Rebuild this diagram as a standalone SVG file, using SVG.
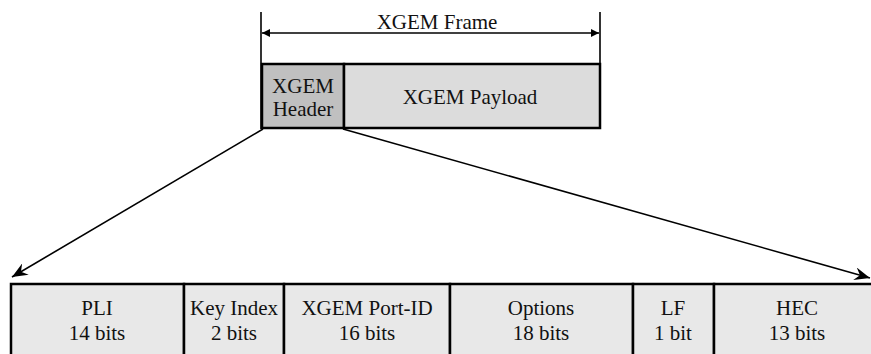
<svg xmlns="http://www.w3.org/2000/svg" width="871" height="354" viewBox="0 0 871 354">
<style>
text{font-family:'Liberation Serif',Tinos,'Times New Roman','DejaVu Serif',serif;font-size:21px;fill:#111;text-anchor:middle}
.cell{fill:#e8e8e8;stroke:#000;stroke-width:2.5}
.ln{stroke:#000;stroke-width:1.6;fill:none}
</style>
<defs>
<marker id="tri" viewBox="0 0 10 10" refX="10" refY="5" markerWidth="10" markerHeight="8" markerUnits="userSpaceOnUse" orient="auto-start-reverse">
<path d="M0,0 L10,5 L0,10 z" fill="#000"/>
</marker>
<marker id="stealth" viewBox="0 0 12 10" refX="12" refY="5" markerWidth="16" markerHeight="13" markerUnits="userSpaceOnUse" orient="auto">
<path d="M0,0 L12,5 L0,10 L4,5 z" fill="#000"/>
</marker>
</defs>
<g id="frame">
<line class="ln" x1="261" y1="12" x2="261" y2="129"/>
<line class="ln" x1="600" y1="12" x2="600" y2="129"/>
<line class="ln" x1="262" y1="33" x2="599" y2="33" marker-start="url(#tri)" marker-end="url(#tri)"/>
<text x="437" y="29" font-family="Liberation Serif, serif">XGEM Frame</text>
</g>
<g id="header">
<rect x="262" y="64" width="82" height="64" fill="#c0c0c0" stroke="#000" stroke-width="2.5"/>
<text x="303" y="93">XGEM</text>
<text x="303" y="116">Header</text>
</g>
<g id="payload">
<rect x="344" y="64" width="256" height="64" fill="#dcdcdc" stroke="#000" stroke-width="2.5"/>
<text x="470" y="104">XGEM Payload</text>
</g>
<g id="connectors">
<line class="ln" x1="263" y1="129" x2="12" y2="277" marker-end="url(#stealth)"/>
<line class="ln" x1="343" y1="129" x2="870" y2="278" marker-end="url(#stealth)"/>
</g>
<g id="pli">
<rect class="cell" x="11" y="284" width="173" height="90"/>
<text x="97" y="315">PLI</text>
<text x="97" y="340">14 bits</text>
</g>
<g id="keyindex">
<rect class="cell" x="184" y="284" width="100" height="90"/>
<text x="234" y="315">Key Index</text>
<text x="234" y="340">2 bits</text>
</g>
<g id="portid">
<rect class="cell" x="284" y="284" width="166" height="90"/>
<text x="367" y="315">XGEM Port-ID</text>
<text x="367" y="340">16 bits</text>
</g>
<g id="options">
<rect class="cell" x="450" y="284" width="183" height="90"/>
<text x="541" y="315">Options</text>
<text x="541" y="340">18 bits</text>
</g>
<g id="lf">
<rect class="cell" x="633" y="284" width="81" height="90"/>
<text x="673" y="315">LF</text>
<text x="673" y="340">1 bit</text>
</g>
<g id="hec">
<rect class="cell" x="714" y="284" width="167" height="90"/>
<text x="797" y="315">HEC</text>
<text x="797" y="340">13 bits</text>
</g>
</svg>
